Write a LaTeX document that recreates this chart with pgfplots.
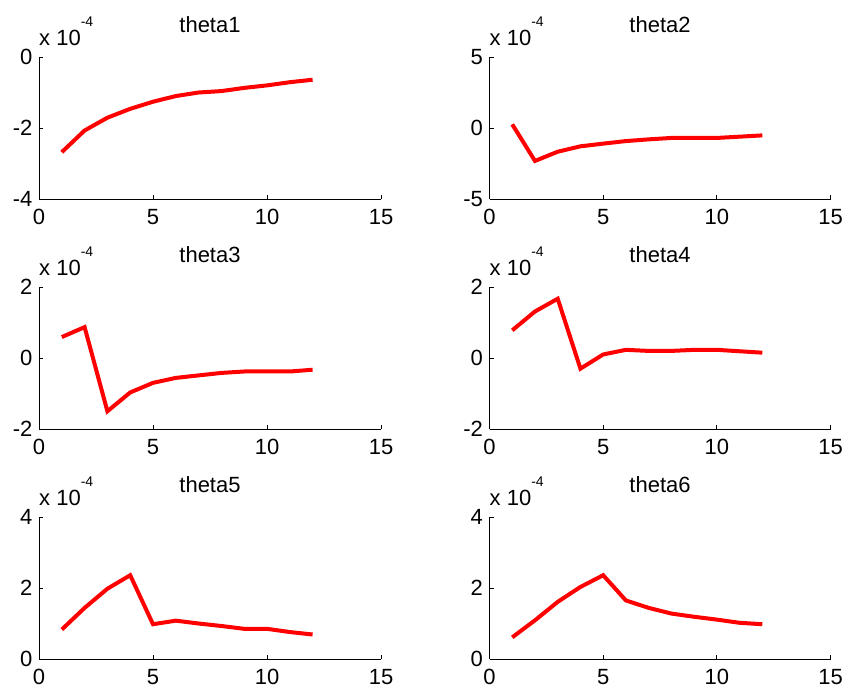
\documentclass[border=0pt]{standalone}
\usepackage{fontspec}
\setmainfont{Liberation Sans}
\usepackage{pgfplots}
\usepackage{pgfplotstable}
\pgfplotsset{compat=1.18}

% impulse responses, in units of 1e-4
\pgfplotstableread{
k   t1     t2     t3     t4     t5    t6
1  -2.68   0.26   0.59   0.78  0.83  0.61
2  -2.07  -2.32   0.87   1.31  1.44  1.09
3  -1.71  -1.67  -1.50   1.67  1.98  1.61
4  -1.46  -1.29  -0.97  -0.30  2.36  2.03
5  -1.26  -1.10  -0.70   0.10  0.98  2.36
6  -1.10  -0.92  -0.56   0.23  1.08  1.65
7  -1.00  -0.80  -0.49   0.20  1.00  1.44
8  -0.96  -0.70  -0.42   0.20  0.93  1.28
9  -0.87  -0.70  -0.38   0.23  0.85  1.19
10 -0.80  -0.70  -0.38   0.23  0.85  1.11
11 -0.71  -0.61  -0.38   0.19  0.76  1.02
12 -0.64  -0.52  -0.33   0.15  0.69  0.98
}\thetadata

\newcommand\lbl{\fontsize{22}{26}\selectfont}
\newcommand\expo{\fontsize{14}{16}\selectfont}

\pgfplotsset{
  panel/.style={
    scale only axis, width=342pt, height=142pt,
    anchor=north west,
    xmin=0, xmax=15,
    xtick={0,5,10,15}, xticklabels={0,5,10,15},
    axis x line*=bottom, axis y line*=left,
    axis line style={-, black, line width=1pt},
    tick align=inside, major tick length=4pt,
    tick style={black, line width=1pt},
    tick label style={font=\lbl},
    xticklabel style={yshift=-7pt},
    yticklabel style={xshift=-3pt},
    title style={font=\lbl, at={(0.5,1)}, anchor=base, yshift=18.5pt},
    clip=false,
  },
  resp/.style={red, line width=4pt, mark=none},
}

% the "x 10^-4" multiplier above the y axis
\newcommand\scalelabel{%
  \node[anchor=base west, inner sep=0pt, font=\lbl] at (rel axis cs:0,1)
    [yshift=12pt] {x 10\raisebox{19pt}{\expo -4}};}

\begin{document}
\begin{tikzpicture}
\useasboundingbox (0pt,0pt) rectangle (848pt,-689pt);

\begin{axis}[panel, at={(39pt,-57pt)}, title={theta1},
  ymin=-4, ymax=0, ytick={-4,-2,0}, yticklabels={-4,-2,0}]
  \addplot[resp] table[x=k, y=t1] {\thetadata};
  \scalelabel
\end{axis}

\begin{axis}[panel, at={(489.5pt,-57pt)}, width=341pt, title={theta2},
  ymin=-5, ymax=5, ytick={-5,0,5}, yticklabels={-5,0,5}]
  \addplot[resp] table[x=k, y=t2] {\thetadata};
  \scalelabel
\end{axis}

\begin{axis}[panel, at={(39pt,-287pt)}, title={theta3},
  ymin=-2, ymax=2, ytick={-2,0,2}, yticklabels={-2,0,2}]
  \addplot[resp] table[x=k, y=t3] {\thetadata};
  \scalelabel
\end{axis}

\begin{axis}[panel, at={(489.5pt,-287pt)}, width=341pt, title={theta4},
  ymin=-2, ymax=2, ytick={-2,0,2}, yticklabels={-2,0,2}]
  \addplot[resp] table[x=k, y=t4] {\thetadata};
  \scalelabel
\end{axis}

\begin{axis}[panel, at={(39pt,-517pt)}, title={theta5},
  ymin=0, ymax=4, ytick={0,2,4}, yticklabels={0,2,4}]
  \addplot[resp] table[x=k, y=t5] {\thetadata};
  \scalelabel
\end{axis}

\begin{axis}[panel, at={(489.5pt,-517pt)}, width=341pt, title={theta6},
  ymin=0, ymax=4, ytick={0,2,4}, yticklabels={0,2,4}]
  \addplot[resp] table[x=k, y=t6] {\thetadata};
  \scalelabel
\end{axis}
\end{tikzpicture}
\end{document}
